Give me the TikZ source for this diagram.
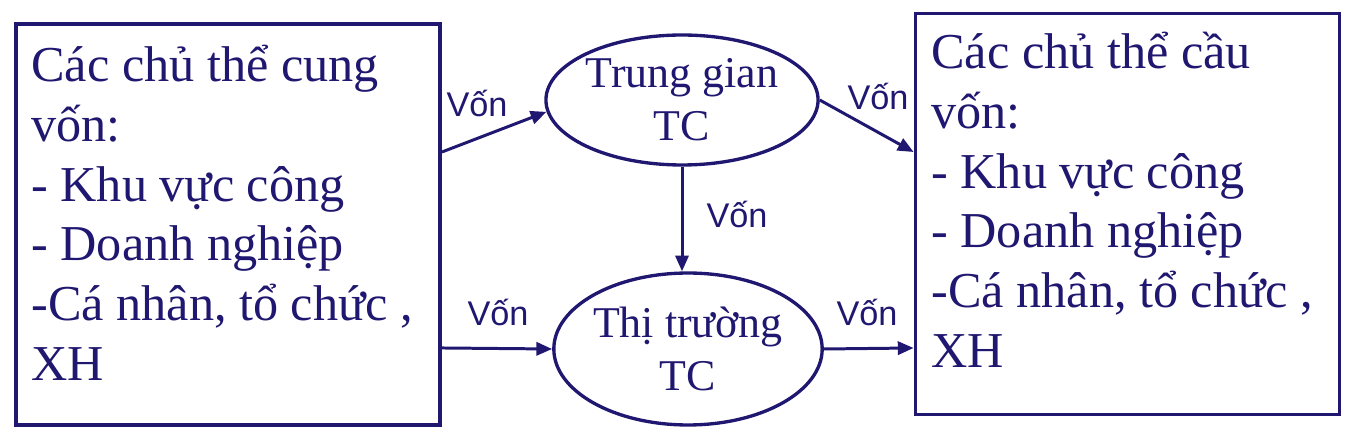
\documentclass[tikz,border=0pt]{standalone}
\usepackage{fontspec}
\setmainfont{Liberation Serif}
\newfontfamily\vonfont{Liberation Sans}
\usetikzlibrary{shapes.geometric}
\usetikzlibrary{arrows.meta}
\definecolor{navy}{RGB}{32,24,112}
\tikzset{
  khung/.style={draw=navy, line width=2.2pt, rectangle, minimum width=8.48cm, minimum height=8.02cm, inner sep=0pt},
  chu/.style={text=navy, font=\fontsize{28.6}{34}\selectfont, align=left, inner sep=0pt, anchor=north west},
  elip/.style={draw=navy, line width=1.9pt, ellipse, inner sep=0pt, text=navy, align=center, font=\fontsize{25}{30}\selectfont},
  muiten/.style={draw=navy, line width=1.7pt, -{Triangle[length=9pt,width=7.5pt]}},
  von/.style={text=navy, font=\vonfont\fontsize{19.5}{22}\selectfont, inner sep=0pt}
}
\begin{document}
\begin{tikzpicture}[x=0.02cm, y=-0.02cm]
        \useasboundingbox (0, 0) rectangle (1362, 435);

        \node[khung] (cung) at (228, 224.5) {};
        \node[chu] (cungchu) at (31, 45) {Các chủ thể cung\\vốn:\\- Khu vực công\\- Doanh nghiệp\\-Cá nhân, tổ chức ,\\XH};
        \node[khung] (cau) at (1127.5, 214) {};
        \node[chu] (cauchu) at (931, 32) {Các chủ thể cầu\\vốn:\\- Khu vực công\\- Doanh nghiệp\\-Cá nhân, tổ chức ,\\XH};

        \node[elip, minimum width=5.42cm, minimum height=2.6cm] (tg) at (682, 100) {Trung gian\\TC};
        \node[elip, minimum width=5.26cm, minimum height=3.04cm] (tm) at (688, 349) {Thị trường\\TC};

        \draw[muiten] ([yshift=1.45cm]cung.east) -- (tg.185);
        \draw[muiten] (tg.east) -- ([yshift=1.24cm]cau.west);
        \draw[muiten] (tg.south) -- (tg.south |- tm.north);
        \draw[muiten] ([yshift=-2.47cm]cung.east) -- (tm.west);
        \draw[muiten] (tm.east) -- ([yshift=-2.68cm]cau.west);

        \node[von] (von1) at (477, 104) {Vốn};
        \node[von] (von2) at (878, 97) {Vốn};
        \node[von] (von3) at (737, 215) {Vốn};
        \node[von] (von4) at (498, 313) {Vốn};
        \node[von] (von5) at (867, 313) {Vốn};
\end{tikzpicture}
\end{document}
